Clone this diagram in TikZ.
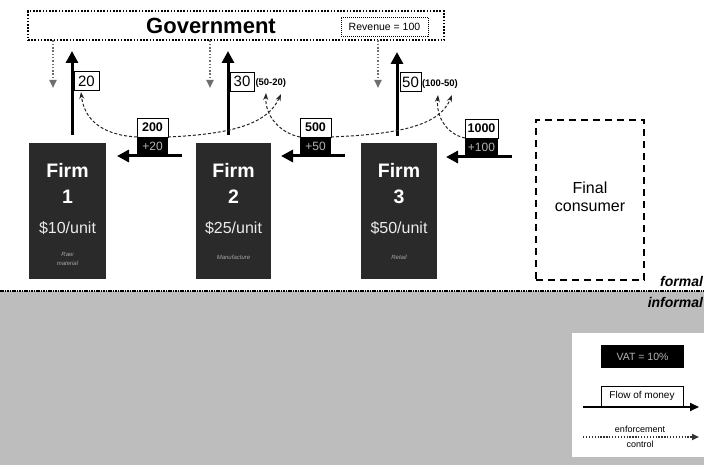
\documentclass[tikz,border=0pt]{standalone}
\usepackage{fontspec}
\setmainfont{Liberation Sans}
\usetikzlibrary{arrows.meta}
\definecolor{firmfill}{HTML}{2A2A2A}
\definecolor{ctrlgray}{HTML}{6E6E6E}
\definecolor{areagray}{HTML}{BDBDBD}
\definecolor{plusgray}{HTML}{B4B4B4}
\newcommand{\fs}[1]{\fontsize{#1}{#1}\selectfont}
\begin{document}
\begin{tikzpicture}[x=1pt,y=-1pt,
  every node/.style={inner sep=0pt,outer sep=0pt},
  govbox/.style={draw,line width=2pt,dash pattern=on 1.6pt off 1.6pt,minimum width=416pt,minimum height=29pt},
  revbox/.style={draw,line width=0.8pt,dash pattern=on 1pt off 1pt,minimum width=87pt,minimum height=19pt,font=\fs{10.5}},
  firmbox/.style={fill=firmfill,minimum height=136pt},
  firmtitle/.style={text=white,font=\bfseries\fs{19.5}},
  firmprice/.style={text=white!92!black,font=\fs{16}},
  firmnote/.style={text=white!65!black,font=\itshape\fs{6}},
  taxbox/.style={draw,line width=0.8pt,fill=white,minimum height=19pt,inner xsep=2pt,font=\fs{15}},
  paren/.style={font=\bfseries\fs{9.5}},
  invtop/.style={draw,line width=0.6pt,fill=white,minimum height=19pt,font=\bfseries\fs{12.5}},
  invbot/.style={fill=black,text=plusgray,minimum height=19pt,font=\fs{12}},
  money/.style={line width=3pt,-{Triangle[length=12pt,width=12pt]}},
  ctrl/.style={ctrlgray,line width=2pt,dash pattern=on 1.5pt off 1.8pt,-{Triangle[length=8pt,width=7pt]}},
  credit/.style={black!85,line width=1pt,dash pattern=on 3pt off 2pt,-{Stealth[length=7pt,width=5pt]}},
  fcbox/.style={draw,line width=1.8pt,dash pattern=on 7pt off 5pt,minimum width=108pt,minimum height=160pt},
  sepline/.style={line width=2.6pt,dash pattern=on 1.5pt off 0.9pt},
  zone/.style={font=\bfseries\itshape\fs{14}}
]
\clip (0,0) rectangle (704,465);
\fill[white] (0,0) rectangle (704,465);
% informal area
\fill[areagray] (0,291) rectangle (704,465);
\coordinate (sepL) at (0,291);
\coordinate (sepR) at (704,291);
\draw[sepline] (sepL) -- (sepR);
\node[zone,anchor=east] (formal) at (703,281) {formal};
\node[zone,anchor=east] (informal) at (703,302) {informal};

% government
\node[govbox] (gov) at (236,26) {};
\node[font=\bfseries\fs{22}] (govt) at (211,26) {Government};
\node[revbox] (rev) at (384.5,27) {Revenue = 100};

% firms
\node[firmbox,minimum width=77pt] (f1) at (67.5,211) {};
\node[firmbox,minimum width=75pt] (f2) at (233.5,211) {};
\node[firmbox,minimum width=76pt] (f3) at (399,211) {};
\node[firmtitle] (f1a) at (67.5,170) {Firm};
\node[firmtitle] (f1b) at (67.5,197) {1};
\node[firmprice] (f1c) at (67.5,228) {\$10/unit};
\node[firmnote,align=center] (f1d) at (67.5,258.5) {Raw\\[3pt]material};
\node[firmtitle] (f2a) at (233.5,170) {Firm};
\node[firmtitle] (f2b) at (233.5,197) {2};
\node[firmprice] (f2c) at (233.5,228) {\$25/unit};
\node[firmnote] (f2d) at (233.5,257) {Manufacture};
\node[firmtitle] (f3a) at (399,170) {Firm};
\node[firmtitle] (f3b) at (399,197) {3};
\node[firmprice] (f3c) at (399,228) {\$50/unit};
\node[firmnote] (f3d) at (399,257) {Retail};

% final consumer
\node[fcbox] (fc) at (590,200) {};
\node[font=\fs{16},align=center] (fct) at (590,197) {Final\\[2pt]consumer};

% government control arrows
\coordinate (g1) at (53,88);
\coordinate (g2) at (210,88);
\coordinate (g3) at (378,88);
\draw[ctrl] (g1 |- gov.south) -- (g1);
\draw[ctrl] (g2 |- gov.south) -- (g2);
\draw[ctrl] (g3 |- gov.south) -- (g3);

% tax payments to government
\coordinate (u1s) at (72,135); \coordinate (u1e) at (72,51);
\coordinate (u2s) at (228,135); \coordinate (u2e) at (228,51);
\coordinate (u3s) at (397,136); \coordinate (u3e) at (397,52);
\draw[money] (u1s) -- (u1e);
\draw[money] (u2s) -- (u2e);
\draw[money] (u3s) -- (u3e);
\node[taxbox,minimum width=25pt] (t1) at (86.5,81) {20};
\node[taxbox,minimum width=24pt] (t2) at (242,81.5) {30};
\node[taxbox,minimum width=21pt] (t3) at (410.5,82) {50};
\node[paren,anchor=west] (p2) at (255.5,83) {(50-20)};
\node[paren,anchor=west] (p3) at (422,84) {(100-50)};

% money flows between firms
\coordinate (m1s) at (182,156); \coordinate (m1e) at (117,156);
\coordinate (m2s) at (345,156); \coordinate (m2e) at (281,156);
\coordinate (m3s) at (512,157); \coordinate (m3e) at (446,157);
\draw[money] (m1s) -- (m1e);
\draw[money] (m2s) -- (m2e);
\draw[money] (m3s) -- (m3e);
\node[invbot,minimum width=31pt] (ib1b) at (152.5,146.5) {+20};
\node[invtop,minimum width=31pt] (ib1t) at (152.5,127.5) {200};
\node[invbot,minimum width=31pt] (ib2b) at (315.5,146.5) {+50};
\node[invtop,minimum width=31pt] (ib2t) at (315.5,127.5) {500};
\node[invbot,minimum width=33pt] (ib3b) at (481.5,147.5) {+100};
\node[invtop,minimum width=33pt] (ib3t) at (481.5,128.5) {1000};

% credit / enforcement curves
\coordinate (c1) at (81,92);
\coordinate (c2a) at (266,93);
\coordinate (c2b) at (281,94);
\coordinate (c3a) at (438,95);
\coordinate (c3b) at (452,95);
\draw[credit] (ib1b.north west) .. controls (100,135) and (84,118) .. (c1);
\draw[credit] (ib1b.north east) .. controls (235,134) and (268,123) .. (c2b);
\draw[credit] (ib2b.north west) .. controls (280,133) and (265,116) .. (c2a);
\draw[credit] (ib2b.north east) .. controls (405,134) and (440,124) .. (c3b);
\draw[credit] (ib3b.north west) .. controls (446,134) and (436,116) .. (c3a);

% legend
\node[fill=white,minimum width=134pt,minimum height=124pt] (leg) at (639,395) {};
\node[fill=black,text=plusgray,minimum width=83pt,minimum height=23pt,font=\fs{10.5}] (vat) at (642.5,356.5) {VAT = 10\%};
\coordinate (lm1) at (583,407); \coordinate (lm2) at (699,407);
\draw[line width=1.8pt,-{Triangle[length=9pt,width=8pt]}] (lm1) -- (lm2);
\node[draw,line width=0.7pt,fill=white,minimum width=82pt,minimum height=20pt,font=\fs{10}] (flow) at (642,396) {Flow of money};
\coordinate (lc1) at (583,437); \coordinate (lc2) at (699,437);
\draw[black!80,line width=1.8pt,dash pattern=on 1.3pt off 1.6pt,-{Triangle[length=7pt,width=6pt]}] (lc1) -- (lc2);
\node[font=\fs{9}] (enf) at (640,429) {enforcement};
\node[font=\fs{9}] (ctl) at (640,444) {control};
\end{tikzpicture}
\end{document}
